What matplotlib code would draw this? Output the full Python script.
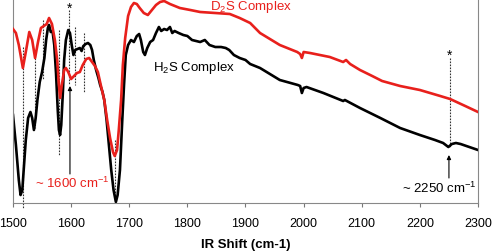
import numpy as np
import matplotlib
matplotlib.use("Agg")
import matplotlib.pyplot as plt

plt.rcParams['font.family'] = ['Liberation Sans', 'DejaVu Sans']
plt.rcParams['mathtext.fontset'] = 'custom'
plt.rcParams['mathtext.rm'] = 'Liberation Sans'
plt.rcParams['mathtext.it'] = 'Liberation Sans:italic'
plt.rcParams['mathtext.bf'] = 'Liberation Sans:bold'

# IR spectra, intensity in arbitrary units (0 = bottom of axes, 202.7 = top)
TOP = 202.7

d2s_wn = [1500, 1505, 1510, 1517, 1522, 1528, 1533, 1538, 1543, 1548, 1553, 1558, 1562,
          1567, 1572, 1576, 1579, 1581, 1584, 1588, 1591, 1595, 1600, 1605, 1610, 1615,
          1620, 1626, 1631, 1636, 1641, 1646, 1651, 1657, 1662, 1667, 1672, 1675, 1679,
          1682, 1686, 1689, 1693, 1698, 1703, 1708, 1713, 1718, 1725, 1732, 1739, 1746,
          1753, 1760, 1770, 1787, 1805, 1822, 1848, 1873, 1890, 1908, 1925, 1959, 1989,
          1994, 1997, 2000, 2011, 2045, 2068, 2073, 2080, 2097, 2118, 2135, 2166, 2200,
          2235, 2252, 2278, 2300]
d2s_depth = [29, 33, 45, 68, 52, 32, 40, 58, 42, 28, 26, 24, 18,
             24, 40, 60, 85, 98, 85, 70, 68, 72, 79, 76, 73, 72,
             65, 59, 58, 62, 66, 72, 85, 100, 120, 138, 152, 156, 150,
             130, 100, 65, 38, 16, 7, 3, 4, 8, 13, 15, 10, 5,
             2, 1, 4, 8, 10, 12, 13, 14, 18, 23, 33, 45, 52,
             54, 58, 52, 53, 57, 62, 60, 64, 70, 76, 81, 86, 90,
             96, 99, 106, 112]

h2s_wn = [1500, 1505, 1510, 1513, 1516, 1519, 1522, 1526, 1530, 1533, 1536, 1539, 1542,
          1546, 1550, 1554, 1557, 1560, 1562, 1565, 1568, 1571, 1574, 1577, 1579, 1581,
          1583, 1586, 1588, 1591, 1595, 1598, 1601, 1604, 1607, 1611, 1615, 1618, 1621,
          1625, 1629, 1633, 1636, 1639, 1643, 1647, 1650, 1654, 1657, 1661, 1665, 1669,
          1673, 1677, 1680, 1684, 1688, 1691, 1694, 1698, 1703, 1708, 1713, 1717, 1720,
          1724, 1727, 1731, 1736, 1741, 1746, 1751, 1755, 1760, 1765, 1770, 1774, 1778,
          1785, 1793, 1800, 1808, 1815, 1822, 1830, 1838, 1848, 1858, 1866, 1872, 1880,
          1890, 1900, 1908, 1925, 1959, 1990, 1994, 1997, 2000, 2005, 2034, 2068, 2071,
          2097, 2132, 2166, 2200, 2226, 2240, 2249, 2255, 2262, 2270, 2285, 2300]
h2s_depth = [115, 145, 180, 195, 190, 165, 140, 118, 112, 118, 130, 118, 100,
             82, 72, 58, 40, 28, 25, 32, 31, 45, 73, 110, 130, 135,
             125, 90, 60, 40, 30, 33, 45, 55, 50, 49, 48, 51, 46,
             44, 43, 45, 50, 60, 70, 78, 85, 92, 100, 120, 145, 170,
             190, 202, 195, 170, 120, 85, 55, 45, 40, 42, 36, 34, 40,
             52, 55, 48, 42, 40, 33, 27, 31, 29, 30, 27, 33, 31,
             33, 35, 36, 40, 41, 42, 40, 45, 47, 47, 48, 50, 55,
             58, 60, 64, 68, 80, 85, 86, 93, 88, 87, 93, 101, 100,
             108, 118, 128, 135, 140, 143, 147, 144, 143, 144, 147, 150]

# dotted guide lines: position, upper depth, lower depth
guide_wn = [1517, 1538, 1552, 1579, 1597, 1606, 1622, 1676, 2251]
guide_top = [47, 58, 20, 30, 10, 27, 33, 140, 58]
guide_bot = [208, 128, 80, 155, 85, 85, 92, 200, 147]

d2s = TOP - np.array(d2s_depth)
h2s = TOP - np.array(h2s_depth)

fig = plt.figure(figsize=(4.92, 2.52), dpi=100)
ax = fig.add_axes([13 / 492, 1 - TOP / 252, 465 / 492, TOP / 252])

for wn, t, b in zip(guide_wn, guide_top, guide_bot):
    ax.plot([wn, wn], [TOP - t, TOP - b], color='#333333', lw=0.8,
            ls=(0, (1.5, 1.2)), clip_on=False, zorder=1)

ax.plot(d2s_wn, d2s, color='#e8201c', lw=1.9, zorder=3)
ax.plot(h2s_wn, h2s, color='black', lw=1.9, zorder=2)

# stars and arrows
ax.text(1597, TOP - 9, '*', ha='center', va='center', fontsize=10)
ax.text(2251, TOP - 56, '*', ha='center', va='center', fontsize=10)
ax.annotate('', xy=(1598, TOP - 86), xytext=(1598, TOP - 174),
            arrowprops=dict(arrowstyle='-|>', color='black', lw=0.8,
                            mutation_scale=6, shrinkA=0, shrinkB=0))
ax.annotate('', xy=(2250, TOP - 155), xytext=(2250, TOP - 178),
            arrowprops=dict(arrowstyle='-|>', color='black', lw=0.8,
                            mutation_scale=6, shrinkA=0, shrinkB=0))

ax.text(1538, TOP - 183, '~ 1600 cm$^{-1}$', color='#e8201c', fontsize=9.5,
        ha='left', va='center')
ax.text(2169, TOP - 188, '~ 2250 cm$^{-1}$', color='black', fontsize=9.5,
        ha='left', va='center')
ax.text(1741, TOP - 68, 'H$_2$S Complex', color='black', fontsize=9.5,
        ha='left', va='center')
ax.text(1839, TOP - 7, 'D$_2$S Complex', color='#e8201c', fontsize=9.5,
        ha='left', va='center')

ax.set_xlim(1500, 2300)
ax.set_ylim(0, TOP)
ax.set_xticks(np.arange(1500, 2301, 100))
ax.set_yticks([])
ax.tick_params(axis='x', direction='out', length=3, width=0.8, color='#777777',
               labelsize=9, pad=8)
ax.spines['top'].set_visible(False)
for s in ['left', 'right', 'bottom']:
    ax.spines[s].set_color('#888888')
    ax.spines[s].set_linewidth(0.8)
ax.set_xlabel('IR Shift (cm-1)', fontsize=9.5, fontweight='bold', labelpad=6.5)

fig.savefig('out.png', dpi=100)
